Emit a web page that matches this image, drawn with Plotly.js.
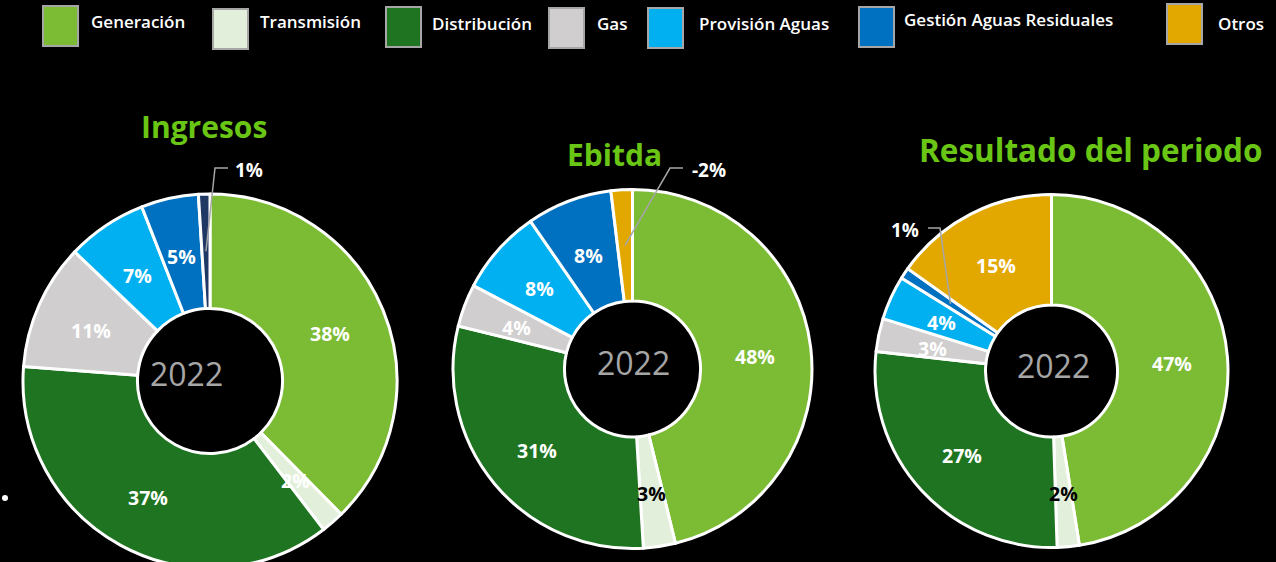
<!DOCTYPE html>
<html><head><meta charset="utf-8">
<script src="https://cdn.plot.ly/plotly-3.0.1.min.js"></script>
<style>html,body{margin:0;padding:0;background:#000;overflow:hidden;}#chart{width:1276px;height:580px;}</style>
</head><body><div id="chart"></div>
<script>
// ---- data ----
const categories = ['Generación','Transmisión','Distribución','Gas','Provisión Aguas','Gestión Aguas Residuales','Otros'];
const ingresos  = [38, 2, 37, 11, 7, 5, 1];
const ebitda    = [48, 3, 31, 4, 8, 8, -2];
const resultado = [47, 2, 27, 3, 4, 1, 15];
const chartTitles = ['Ingresos', 'Ebitda', 'Resultado del periodo'];
const yearLabel = '2022';

// ---- style / layout ----
const W = 1276, H = 580;
const palette = ['#7cbb34','#e2efda','#1e7420','#d0cece','#00b0f0','#0070c0','#e2a800'];
const ingresosOtrosColor = '#203864';
const titleColor = '#6ac614';
const labelFont = 'Open Sans, Liberation Sans, sans-serif';

const pies = [
  {values: ingresos, cx: 210, cy: 381, r: 187, hole: 0.388,
   colors: palette.slice(0, 6).concat([ingresosOtrosColor]),
   title: {x: 204, y: 126, size: 30}, year: {x: 186, y: 373}, dark: [],
   leader: {idx: 6, label: [249, 170], pts: [[228, 168], [215, 168]]}},
  {values: ebitda, cx: 632.5, cy: 369, r: 179.5, hole: 0.379,
   colors: palette.slice(),
   title: {x: 614, y: 155, size: 30}, year: {x: 633, y: 362}, dark: [1],
   leader: {idx: 6, label: [709, 170], pts: [[683, 168], [670, 168]]}},
  {values: resultado, cx: 1051.5, cy: 371, r: 176.5, hole: 0.374,
   colors: palette.slice(),
   title: {x: 1090, y: 150, size: 31.5}, year: {x: 1053, y: 365}, dark: [1],
   leader: {idx: 5, label: [905, 230], pts: [[928, 228], [940, 228]]}}
];

const legendLayout = {
  boxX: [43, 213, 386, 549, 648, 859, 1167],
  boxY: [6, 9, 7, 8, 8, 7, 4],
  textX: [89, 258, 430, 595, 697, 902, 1216],
  textY: [22, 22, 23, 23, 24, 20, 23],
  boxW: 35, boxH: 40
};

const px = x => x / W;
const py = y => 1 - y / H;

const data = pies.map(p => ({
  type: 'pie',
  values: p.values.map(Math.abs),
  labels: categories,
  text: p.values.map(v => v + '%'),
  sort: false, direction: 'clockwise', rotation: 0,
  hole: p.hole, textinfo: 'none', hoverinfo: 'label+text',
  marker: {colors: p.colors, line: {color: '#ffffff', width: 3}},
  domain: {x: [px(p.cx - p.r), px(p.cx + p.r)], y: [py(p.cy + p.r), py(p.cy - p.r)]},
  showlegend: false
}));

const annotations = [];
const shapes = [];

pies.forEach((p, k) => {
  // title
  annotations.push({xref: 'paper', yref: 'paper', x: px(p.title.x), y: py(p.title.y),
    xanchor: 'center', yanchor: 'middle', showarrow: false, text: '<b>' + chartTitles[k] + '</b>',
    font: {family: labelFont, size: p.title.size, color: titleColor}});
  // year in the hole
  annotations.push({xref: 'paper', yref: 'paper', x: px(p.year.x), y: py(p.year.y),
    xanchor: 'center', yanchor: 'middle', showarrow: false, text: yearLabel,
    font: {family: labelFont, size: 32, color: '#a6a6a6'}});
  // slice labels
  const sizes = p.values.map(Math.abs);
  const total = sizes.reduce((a, b) => a + b, 0);
  const rm = p.r * (1 + p.hole) / 2;
  let cum = 0;
  sizes.forEach((s, i) => {
    const th = 2 * Math.PI * (cum + s / 2) / total;
    cum += s;
    const ax = p.cx + rm * Math.sin(th), ay = p.cy - rm * Math.cos(th);
    const txt = p.values[i] + '%';
    if (p.leader && p.leader.idx === i) {
      const pts = p.leader.pts.concat([[ax, ay]]);
      shapes.push({type: 'path', xref: 'paper', yref: 'paper',
        path: 'M' + pts.map(q => px(q[0]) + ',' + py(q[1])).join(' L'),
        line: {color: '#a6a6a6', width: 1.5}});
      annotations.push({xref: 'paper', yref: 'paper', x: px(p.leader.label[0]), y: py(p.leader.label[1]),
        xanchor: 'center', yanchor: 'middle', showarrow: false, text: '<b>' + txt + '</b>',
        font: {family: labelFont, size: 19, color: '#ffffff'}});
    } else {
      annotations.push({xref: 'paper', yref: 'paper', x: px(ax), y: py(ay + 2),
        xanchor: 'center', yanchor: 'middle', showarrow: false, text: '<b>' + txt + '</b>',
        font: {family: labelFont, size: 19.5, color: p.dark.includes(i) ? '#000000' : '#ffffff'}});
    }
  });
});

// custom legend
categories.forEach((c, i) => {
  shapes.push({type: 'rect', xref: 'paper', yref: 'paper',
    x0: px(legendLayout.boxX[i]), x1: px(legendLayout.boxX[i] + legendLayout.boxW),
    y0: py(legendLayout.boxY[i] + legendLayout.boxH), y1: py(legendLayout.boxY[i]),
    fillcolor: palette[i], line: {color: '#a6a6a6', width: 2}});
  annotations.push({xref: 'paper', yref: 'paper', x: px(legendLayout.textX[i]), y: py(legendLayout.textY[i]),
    xanchor: 'left', yanchor: 'middle', showarrow: false, text: c,
    font: {family: 'Open Sans, DejaVu Sans, sans-serif', size: 17, weight: 600, color: '#ffffff'}});
});

// stray bullet from the slide
shapes.push({type: 'circle', xref: 'paper', yref: 'paper',
  x0: px(2), x1: px(8), y0: py(501), y1: py(495), fillcolor: '#ffffff', line: {width: 0}});

const layout = {
  width: W, height: H,
  margin: {l: 0, r: 0, t: 0, b: 0},
  paper_bgcolor: '#000000', plot_bgcolor: '#000000',
  showlegend: false,
  annotations: annotations, shapes: shapes
};

Plotly.newPlot('chart', data, layout, {displayModeBar: false, staticPlot: true});
</script>
</body></html>
